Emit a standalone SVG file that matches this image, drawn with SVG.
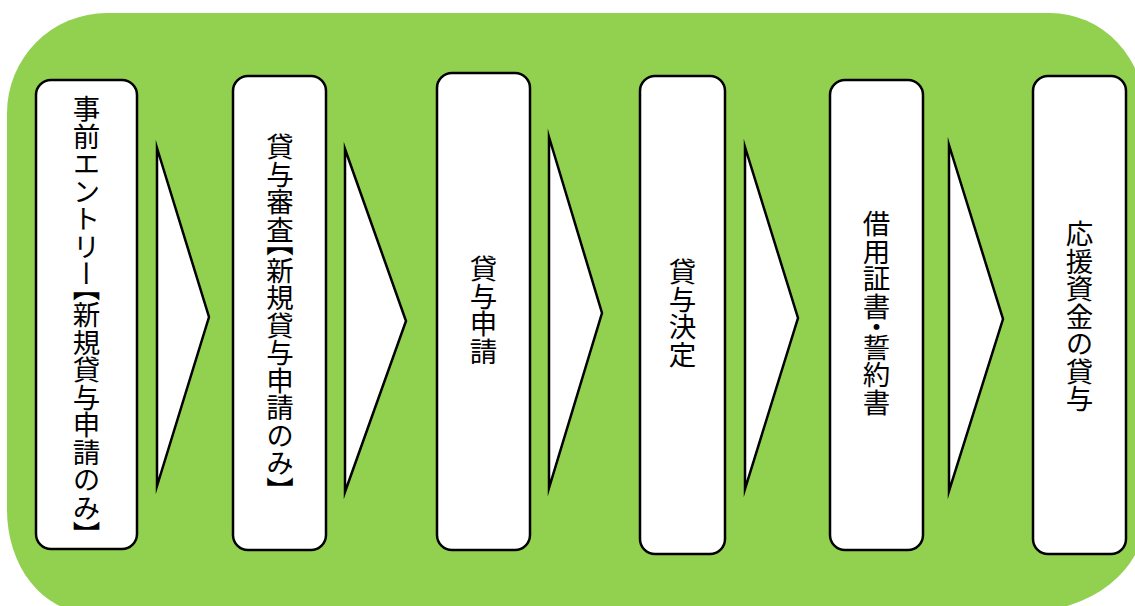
<svg xmlns="http://www.w3.org/2000/svg" width="1135" height="606" viewBox="0 0 1135 606">
<style>
.bg{fill:#92D050;stroke:none}
.box{fill:#fff;stroke:#000;stroke-width:2.5}
.arr{fill:#fff;stroke:#000;stroke-width:2.5;stroke-linejoin:miter;stroke-miterlimit:20}
.lbl{font-family:"Noto Sans CJK JP","Noto Sans CJK SC",sans-serif;font-size:27.5px;fill:#000;writing-mode:vertical-rl;text-orientation:mixed;text-anchor:start}
.half{font-feature-settings:"vhal" 1}
</style>
<rect width="1135" height="606" fill="#fff"/>
<path class="bg" d="M 107 13 H 1050 A 95 100 0 0 1 1145 113 V 517 A 120 95 0 0 1 1025 612 H 87 A 80 102 0 0 1 7 510 V 113 A 100 100 0 0 1 107 13 Z"/>
<g id="connectors">
<polygon class="arr" points="157,148 209,317 157,486"/>
<polygon class="arr" points="345,149 406,321 345,492"/>
<polygon class="arr" points="549,137 602,313 549,488"/>
<polygon class="arr" points="745,147 798,318 745,489"/>
<polygon class="arr" points="949,145 1003,319 949,491"/>
</g>
<g id="node1">
<rect class="box" x="36" y="80" width="101" height="469" rx="15"/>
<text class="lbl half" x="86.5" y="95">事前エントリー【新規貸与申請のみ】</text>
</g>
<g id="node2">
<rect class="box" x="233" y="76" width="93" height="474" rx="15"/>
<text class="lbl half" x="280" y="133">貸与審査【新規貸与申請のみ】</text>
</g>
<g id="node3">
<rect class="box" x="437" y="73" width="93" height="477" rx="15"/>
<text class="lbl" x="483.5" y="255">貸与申請</text>
</g>
<g id="node4">
<rect class="box" x="640" y="76" width="85" height="478" rx="15"/>
<text class="lbl" x="682.5" y="258">貸与決定</text>
</g>
<g id="node5">
<rect class="box" x="830" y="80" width="93" height="470" rx="15"/>
<text class="lbl half" x="876.5" y="210">借用証書・誓約書</text>
</g>
<g id="node6">
<rect class="box" x="1033" y="76" width="93" height="478" rx="15"/>
<text class="lbl" x="1079.5" y="220">応援資金の貸与</text>
</g>
</svg>
